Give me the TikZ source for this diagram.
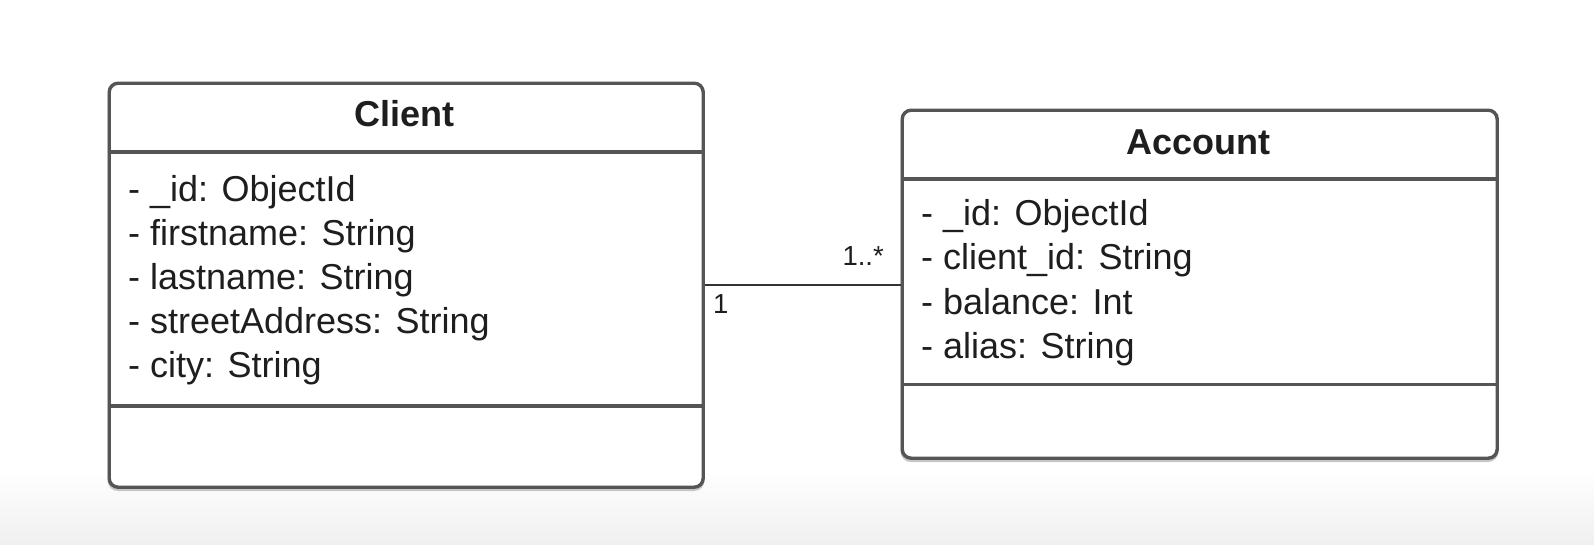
\documentclass[tikz,border=0pt]{standalone}
\usepackage{fontspec}
\setmainfont{Liberation Sans}
\begin{document}
\begin{tikzpicture}[x=1pt,y=-1pt,
  classbox/.style={draw=boxgray, line width=3.4pt, rounded corners=9pt, fill=white, inner sep=0pt, anchor=north west},
  shadowbox/.style={draw=gray!45, line width=3pt, rounded corners=9pt, inner sep=0pt, anchor=north west},
  divider/.style={draw=boxgray, line width=3.4pt},
  title/.style={anchor=base, inner sep=0pt, text=txt, font=\fontsize{36}{43}\selectfont\bfseries},
  attr/.style={anchor=base west, inner sep=0pt, text=txt, font=\fontsize{36}{43}\selectfont},
  mult/.style={inner sep=0pt, text=txt, font=\fontsize{27.5}{30}\selectfont},
  assoc/.style={draw=linegray, line width=2.2pt}]
\definecolor{boxgray}{HTML}{555555}
\definecolor{linegray}{HTML}{333333}
\definecolor{txt}{HTML}{1E1E1E}
\useasboundingbox (0,0) rectangle (1594,544);
\shade[top color=white, bottom color=black!6] (0,470) rectangle (1594,544);
% shadows
\node[shadowbox, minimum width=594pt, minimum height=404pt] (clientsh) at (107.5,84) {};
\node[shadowbox, minimum width=595pt, minimum height=348pt] (accountsh) at (900.5,111) {};
% Client
\node[classbox, minimum width=594pt, minimum height=404pt] (client) at (107.5,81.5) {};
\draw[divider] (client.west |- 0,152) coordinate (cd1) -- (client.east |- 0,152) coordinate (cd2);
\draw[divider] (client.west |- 0,406) coordinate (cd3) -- (client.east |- 0,406) coordinate (cd4);
\node[title] (clientt) at (404.5,126.5) {Client};
\node[attr] (ca1) at (128,201.5) {- \_id: ObjectId};
\node[attr] (ca2) at (128,245.4) {- firstname: String};
\node[attr] (ca3) at (128,289.2) {- lastname: String};
\node[attr] (ca4) at (128,333.2) {- streetAddress: String};
\node[attr] (ca5) at (128,377.2) {- city: String};
% Account
\node[classbox, minimum width=595pt, minimum height=348pt] (account) at (900.5,108.5) {};
\draw[divider] (account.west |- 0,179) coordinate (ad1) -- (account.east |- 0,179) coordinate (ad2);
\draw[divider] (account.west |- 0,384.5) coordinate (ad3) -- (account.east |- 0,384.5) coordinate (ad4);
\node[title] (accountt) at (1198,154.5) {Account};
\node[attr] (aa1) at (921,225.8) {- \_id: ObjectId};
\node[attr] (aa2) at (921,269.6) {- client\_id: String};
\node[attr] (aa3) at (921,314.1) {- balance: Int};
\node[attr] (aa4) at (921,358.1) {- alias: String};
% association
\draw[assoc] (client.east) -- (client.east -| account.west);
\node[mult, anchor=base west] (m1) at (713,313) {1};
\node[mult, anchor=base east] (m2) at (884,265) {1..*};
\end{tikzpicture}
\end{document}
